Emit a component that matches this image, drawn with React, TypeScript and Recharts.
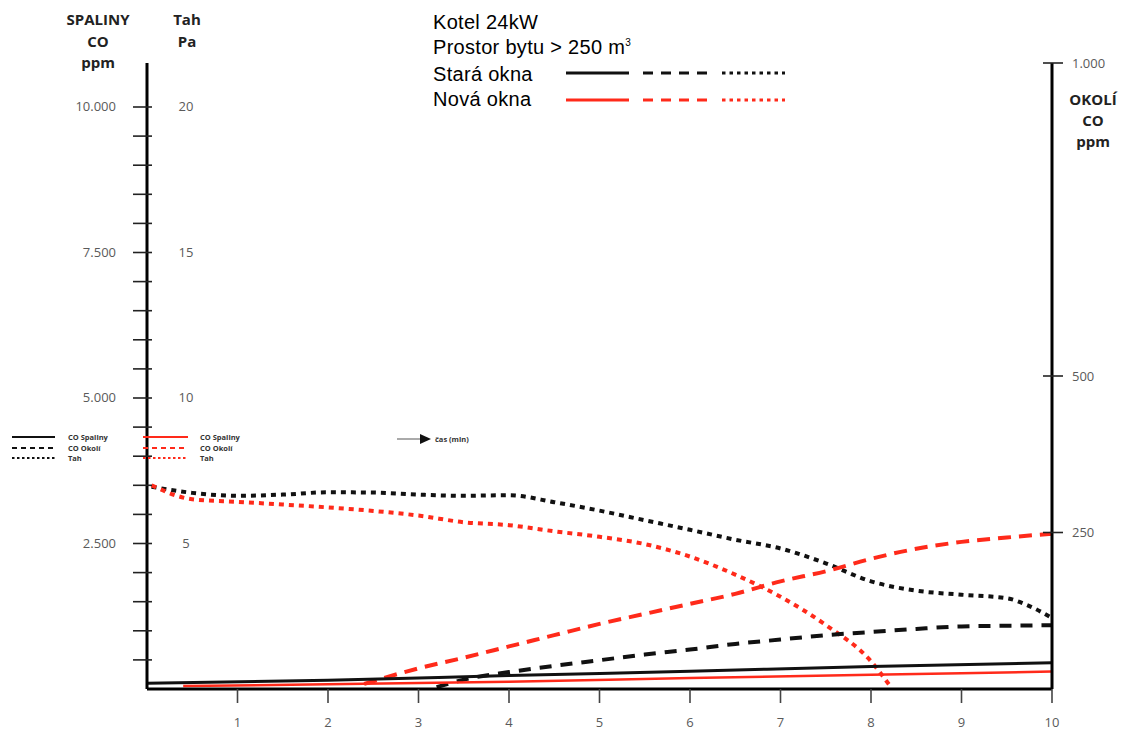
import React from "react";
import { LineChart, Line, XAxis, YAxis } from "recharts";

// axis ticks
const minuteTicks = [1, 2, 3, 4, 5, 6, 7, 8, 9, 10];
const spalinyTicks = [
  500, 1000, 1500, 2000, 2500, 3000, 3500, 4000, 4500, 5000, 5500, 6000, 6500,
  7000, 7500, 8000, 8500, 9000, 9500, 10000,
];
const okoliTicks = [250, 500, 1000];

// both left scales share one pixel range: 10.000 ppm <-> 20 Pa
const SPALINY_MAX = 10756;
const TAH_MAX = (SPALINY_MAX / 10000) * 20;

// Stará okna
const staraSpalinyMin = [0, 2, 4, 6, 8, 10];
const staraSpalinyCO = [100, 150, 230, 305, 385, 450];
const staraOkoliMin = [3.2, 3.6, 4, 4.5, 5, 5.5, 6, 6.5, 7, 7.5, 8, 8.5, 9, 9.5, 10];
const staraOkoliCO = [3, 18, 27, 37, 46, 55, 63, 72, 79, 86, 91, 96, 100, 101, 102];
const staraTahMin = [0.05, 0.5, 1, 1.5, 2, 2.5, 3, 3.5, 4, 4.5, 5, 5.5, 6, 6.5, 7, 7.5, 8, 8.5, 9, 9.5, 9.75, 10];
const staraTahPa = [6.95, 6.74, 6.64, 6.68, 6.76, 6.75, 6.68, 6.64, 6.66, 6.42, 6.13, 5.8, 5.47, 5.13, 4.83, 4.32, 3.7, 3.38, 3.24, 3.12, 2.85, 2.44];

// Nová okna
const novaSpalinyMin = [0.4, 2, 4, 6, 8, 10];
const novaSpalinyCO = [50, 80, 125, 190, 245, 300];
const novaOkoliMin = [2.4, 3, 3.5, 4, 4.5, 5, 5.5, 6, 6.5, 7, 7.5, 8, 8.5, 9, 9.5, 10];
const novaOkoliCO = [8, 33, 50, 68, 86, 104, 120, 136, 152, 172, 188, 208, 224, 235, 242, 248];
const novaTahMin = [0.05, 0.5, 1, 1.5, 2, 2.5, 3, 3.5, 4, 4.5, 5, 5.5, 6, 6.5, 7, 7.5, 8, 8.2];
const novaTahPa = [7.0, 6.52, 6.43, 6.34, 6.24, 6.12, 5.96, 5.73, 5.63, 5.42, 5.23, 4.98, 4.55, 3.93, 3.17, 2.2, 0.95, 0.15];

const RED = "#ff2a1a";
const BLACK = "#111";
const LABEL = "#5a5a5a";
const FONT = "'Open Sans', sans-serif";

const toPoints = (xs: number[], ys: number[]) =>
  xs.map((x, i) => ({ x, v: ys[i] }));

const fmt = (n: number) =>
  n >= 1000
    ? `${Math.floor(n / 1000)}.${String(n % 1000).padStart(3, "0")}`
    : `${n}`;

// left axis: ppm labels + the Tah (Pa) labels that sit on the same ticks
const SpalinyTick = ({ y, payload }: any) => {
  const major = payload.value % 2500 === 0;
  return (
    <g>
      <line x1={133} x2={152} y1={y} y2={y} stroke="#222" strokeWidth={1.6} />
      {major && (
        <text x={116} y={y} dy={4.5} textAnchor="end" fontSize={13} fill={LABEL} fontFamily={FONT}>
          {fmt(payload.value)}
        </text>
      )}
      {major && (
        <text x={186} y={y} dy={4.5} textAnchor="middle" fontSize={13} fill={LABEL} fontFamily={FONT}>
          {Math.round((payload.value / SPALINY_MAX) * TAH_MAX)}
        </text>
      )}
    </g>
  );
};

const OkoliTick = ({ y, payload }: any) => (
  <g>
    <line x1={1043} x2={1063} y1={y} y2={y} stroke="#222" strokeWidth={1.6} />
    <text x={1072} y={y} dy={4.5} fontSize={13} fill={LABEL} fontFamily={FONT}>
      {fmt(payload.value)}
    </text>
  </g>
);

const MinuteTick = ({ x, payload }: any) => (
  <g>
    <line x1={x} x2={x} y1={689} y2={703} stroke="#444" strokeWidth={1.6} />
    <text x={x} y={727} textAnchor="middle" fontSize={13} fill={LABEL} fontFamily={FONT}>
      {payload.value}
    </text>
  </g>
);

function Annotations() {
  const head = { fontFamily: FONT, fontWeight: 700, fontSize: 15, fill: "#222", textAnchor: "middle" as const };
  const title = { fontFamily: "'Liberation Sans', Arial, sans-serif", fontSize: 20, letterSpacing: 0.3, fill: "#000" };
  const tiny = { fontFamily: FONT, fontWeight: 700, fontSize: 7.5, fill: "#333" };
  return (
    <svg
      width={1123}
      height={733}
      style={{ position: "absolute", left: 0, top: 0, pointerEvents: "none" }}
    >
      {/* axis headers */}
      <text x={98} y={25} {...head}>SPALINY</text>
      <text x={98} y={47} {...head}>CO</text>
      <text x={98} y={68} {...head}>ppm</text>
      <text x={187} y={25} {...head}>Tah</text>
      <text x={187} y={47} {...head}>Pa</text>
      <text x={1093} y={105} {...head}>OKOLÍ</text>
      <text x={1093} y={126} {...head}>CO</text>
      <text x={1093} y={147} {...head}>ppm</text>

      {/* title + legend */}
      <text x={433} y={29} {...title}>Kotel 24kW</text>
      <text x={433} y={54} {...title}>
        Prostor bytu &gt;  250 m<tspan fontSize={10} dy={-8}>3</tspan>
      </text>
      <text x={433} y={81} {...title}>Stará okna</text>
      <text x={433} y={106} {...title}>Nová okna</text>
      <line x1={566} x2={629} y1={73} y2={73} stroke={BLACK} strokeWidth={3} />
      <line x1={643} x2={707} y1={73} y2={73} stroke={BLACK} strokeWidth={3} strokeDasharray="10 8" />
      <line x1={722} x2={785} y1={73} y2={73} stroke={BLACK} strokeWidth={3} strokeDasharray="3.5 4" />
      <line x1={566} x2={629} y1={100} y2={100} stroke={RED} strokeWidth={3} />
      <line x1={643} x2={707} y1={100} y2={100} stroke={RED} strokeWidth={3} strokeDasharray="10 8" />
      <line x1={722} x2={785} y1={100} y2={100} stroke={RED} strokeWidth={3} strokeDasharray="3.5 4" />

      {/* small series key */}
      <line x1={12} x2={55} y1={437} y2={437} stroke={BLACK} strokeWidth={2} />
      <line x1={12} x2={55} y1={448} y2={448} stroke={BLACK} strokeWidth={2} strokeDasharray="5 4" />
      <line x1={12} x2={55} y1={458} y2={458} stroke={BLACK} strokeWidth={2} strokeDasharray="2.5 2.5" />
      <text x={68} y={440} {...tiny}>CO Spaliny</text>
      <text x={68} y={451} {...tiny}>CO Okolí</text>
      <text x={68} y={461} {...tiny}>Tah</text>
      <line x1={143} x2={188} y1={437} y2={437} stroke={RED} strokeWidth={2} />
      <line x1={143} x2={188} y1={448} y2={448} stroke={RED} strokeWidth={2} strokeDasharray="5 4" />
      <line x1={143} x2={188} y1={458} y2={458} stroke={RED} strokeWidth={2} strokeDasharray="2.5 2.5" />
      <text x={200} y={440} {...tiny}>CO Spaliny</text>
      <text x={200} y={451} {...tiny}>CO Okolí</text>
      <text x={200} y={461} {...tiny}>Tah</text>

      {/* time arrow */}
      <line x1={397} x2={422} y1={439} y2={439} stroke="#aaa" strokeWidth={2} />
      <polygon points="420,434 431,439 420,444" fill="#111" />
      <text x={435} y={442} {...tiny}>čas (min)</text>
    </svg>
  );
}

export default function App() {
  return (
    <div style={{ position: "absolute", left: 0, top: 0, width: 1123, height: 733, background: "#fff" }}>
      <LineChart width={1123} height={733} margin={{ top: 63, right: 0, bottom: 0, left: 0 }}>
        <XAxis
          dataKey="x"
          type="number"
          domain={[0, 10]}
          ticks={minuteTicks}
          interval={0}
          height={44}
          axisLine={{ stroke: "#000", strokeWidth: 3 }}
          tickLine={false}
          tick={<MinuteTick />}
        />
        <YAxis
          yAxisId="spaliny"
          orientation="left"
          width={147}
          domain={[0, SPALINY_MAX]}
          ticks={spalinyTicks}
          interval={0}
          axisLine={{ stroke: "#000", strokeWidth: 3 }}
          tickLine={false}
          tick={<SpalinyTick />}
        />
        <YAxis yAxisId="tah" hide domain={[0, TAH_MAX]} />
        <YAxis
          yAxisId="okoli"
          orientation="right"
          width={71}
          domain={[0, 1000]}
          ticks={okoliTicks}
          interval={0}
          axisLine={{ stroke: "#000", strokeWidth: 3 }}
          tickLine={false}
          tick={<OkoliTick />}
        />

        <Line yAxisId="tah" data={toPoints(staraTahMin, staraTahPa)} dataKey="v" type="monotone"
          stroke={BLACK} strokeWidth={4} strokeDasharray="5 5" dot={false} isAnimationActive={false} />
        <Line yAxisId="tah" data={toPoints(novaTahMin, novaTahPa)} dataKey="v" type="monotone"
          stroke={RED} strokeWidth={4} strokeDasharray="5 5" dot={false} isAnimationActive={false} />
        <Line yAxisId="okoli" data={toPoints(staraOkoliMin, staraOkoliCO)} dataKey="v" type="monotone"
          stroke={BLACK} strokeWidth={4} strokeDasharray="12 9" dot={false} isAnimationActive={false} />
        <Line yAxisId="okoli" data={toPoints(novaOkoliMin, novaOkoliCO)} dataKey="v" type="monotone"
          stroke={RED} strokeWidth={4} strokeDasharray="13 8" dot={false} isAnimationActive={false} />
        <Line yAxisId="spaliny" data={toPoints(staraSpalinyMin, staraSpalinyCO)} dataKey="v" type="monotone"
          stroke={BLACK} strokeWidth={3} dot={false} isAnimationActive={false} />
        <Line yAxisId="spaliny" data={toPoints(novaSpalinyMin, novaSpalinyCO)} dataKey="v" type="monotone"
          stroke={RED} strokeWidth={2.5} dot={false} isAnimationActive={false} />
      </LineChart>
      <Annotations />
    </div>
  );
}
